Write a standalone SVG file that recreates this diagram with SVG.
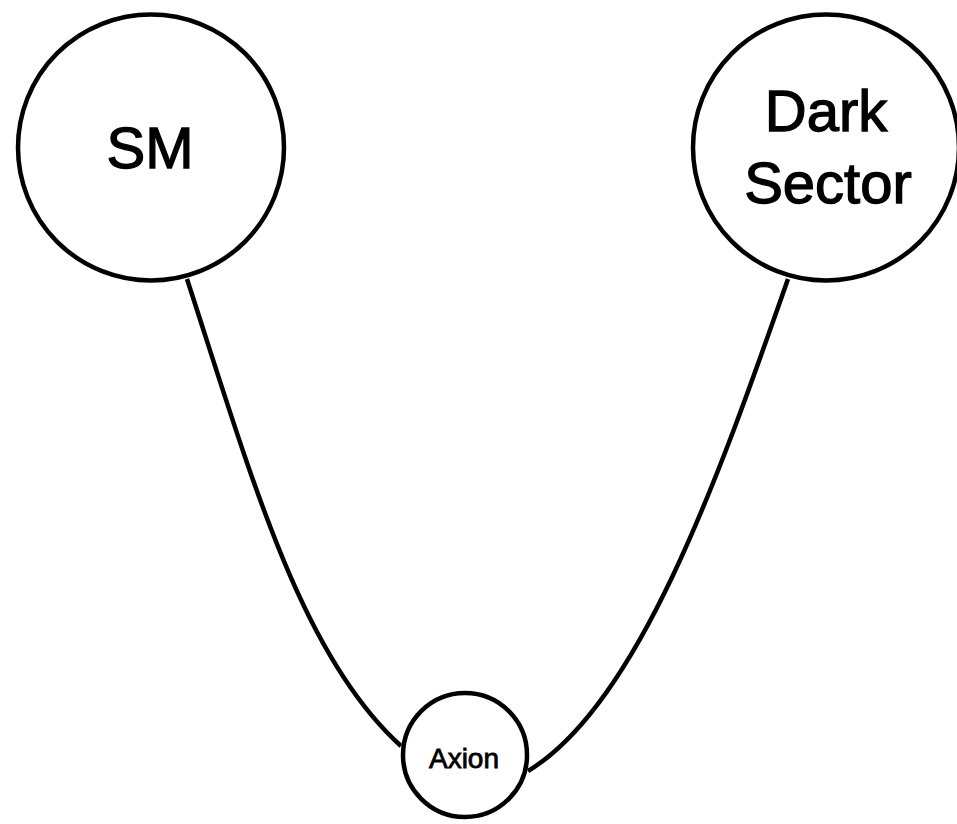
<svg xmlns="http://www.w3.org/2000/svg" width="957" height="824" viewBox="0 0 957 824">
  <style>
    .node { fill: #ffffff; stroke: #000000; stroke-width: 4.5; }
    .edge { fill: none; stroke: #000000; stroke-width: 4.5; }
    .label { font-family: "Liberation Sans", Arial, Helvetica, sans-serif; fill: #000000; stroke: #000000; text-anchor: middle; }
    .big { font-size: 58px; stroke-width: 1.3; }
    .small { font-size: 28px; stroke-width: 0.8; }
  </style>
  <rect width="957" height="824" fill="#ffffff"/>

  <!-- connectors -->
  <g id="edges">
    <path class="edge" d="M187,279 C252,479 301,656 401,746"/>
    <path class="edge" d="M788,279 C718,479 638,705 528,771"/>
  </g>

  <!-- nodes -->
  <g id="node-sm">
    <circle class="node" cx="151" cy="147.5" r="133"/>
    <text class="label big" x="150" y="168">SM</text>
  </g>
  <g id="node-dark-sector">
    <circle class="node" cx="826" cy="147.5" r="133"/>
    <text class="label big" x="826" y="131">Dark</text>
    <text class="label big" x="828" y="203">Sector</text>
  </g>
  <g id="node-axion">
    <circle class="node" cx="465" cy="755" r="62"/>
    <text class="label small" x="464" y="768">Axion</text>
  </g>
</svg>
